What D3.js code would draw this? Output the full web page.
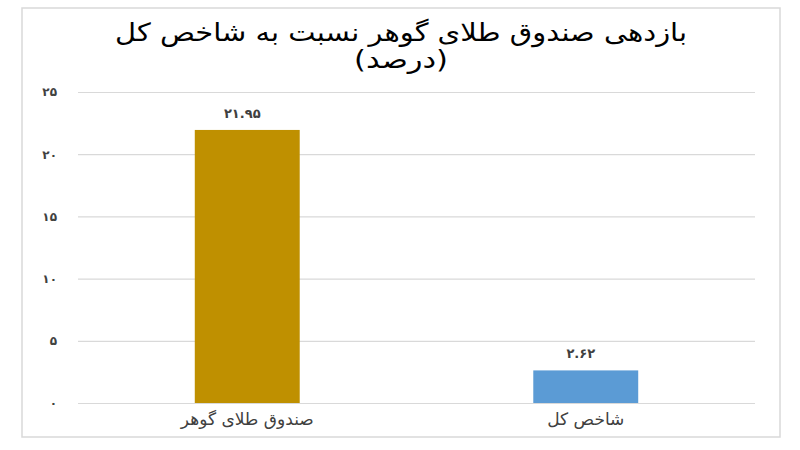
<!DOCTYPE html>
<html><head><meta charset="utf-8">
<script src="https://cdn.jsdelivr.net/npm/d3@7"></script>
<style>body{margin:0;background:#fff;} svg{display:block;}</style>
</head><body>
<svg id="c" width="800" height="450"></svg>
<script>
const categories = ["صندوق طلای گوهر", "شاخص کل"];
const values = [21.95, 2.62];
const valueLabels = ["۲۱.۹۵", "۲.۶۲"];
const colors = ["#bf9000", "#5b9bd5"];
const tickValues = [0, 5, 10, 15, 20, 25];
const tickLabels = ["۰", "۵", "۱۰", "۱۵", "۲۰", "۲۵"];
const titleLines = ["بازدهی صندوق طلای گوهر نسبت به شاخص کل", "(درصد)"];

const svg = d3.select("#c");
const font = "DejaVu Sans, sans-serif";

svg.append("rect").attr("x", 22).attr("y", 8).attr("width", 758).attr("height", 429)
  .attr("fill", "#fff").attr("stroke", "#d9d9d9").attr("stroke-width", 1.5);

const pLeft = 78, pRight = 755, pTop = 92, pBottom = 403;
const x = d3.scaleBand().domain(categories).range([pLeft, pRight]).paddingInner(0.69).paddingOuter(0.345);
const y = d3.scaleLinear().domain([0, 25]).range([pBottom, pTop]);

const yAxis = d3.axisLeft(y).tickValues(tickValues).tickSize(-(pRight - pLeft))
  .tickFormat((d, i) => tickLabels[i]).tickPadding(21);
const gy = svg.append("g").attr("transform", `translate(${pLeft},0)`).call(yAxis);
gy.select(".domain").remove();
gy.selectAll(".tick line").attr("stroke", "#d9d9d9").attr("stroke-width", 1.2);
gy.selectAll(".tick text").attr("font-family", font).attr("font-size", 12)
  .attr("font-weight", "bold").attr("fill", "#404040");

svg.selectAll(".bar").data(values).join("rect").attr("class", "bar")
  .attr("x", (d, i) => x(categories[i])).attr("width", x.bandwidth())
  .attr("y", d => y(d)).attr("height", d => y(0) - y(d))
  .attr("fill", (d, i) => colors[i]);

svg.selectAll(".vl").data(values).join("text").attr("class", "vl")
  .attr("x", (d, i) => x(categories[i]) + x.bandwidth() / 2 - 5)
  .attr("y", d => y(d) - 12)
  .attr("text-anchor", "middle").attr("font-family", font).attr("font-size", 13)
  .attr("font-weight", "bold").attr("fill", "#404040")
  .text((d, i) => valueLabels[i]);

const xAxis = d3.axisBottom(x).tickSize(0).tickPadding(10);
const gx = svg.append("g").attr("transform", `translate(0,${pBottom})`).call(xAxis);
gx.select(".domain").remove();
gx.selectAll(".tick text").attr("font-family", font).attr("font-size", 17)
  .attr("fill", "#404040").attr("direction", "rtl");

const titleWidths = [572, 94];
svg.selectAll(".title").data(titleLines).join("text").attr("class", "title")
  .attr("x", 401).attr("y", (d, i) => 41 + i * 27)
  .attr("text-anchor", "middle").attr("font-family", font).attr("font-size", 25)
  .attr("fill", "#000").attr("direction", "rtl")
  .attr("textLength", (d, i) => titleWidths[i]).attr("lengthAdjust", "spacingAndGlyphs")
  .text(d => d);
</script>
</body></html>
